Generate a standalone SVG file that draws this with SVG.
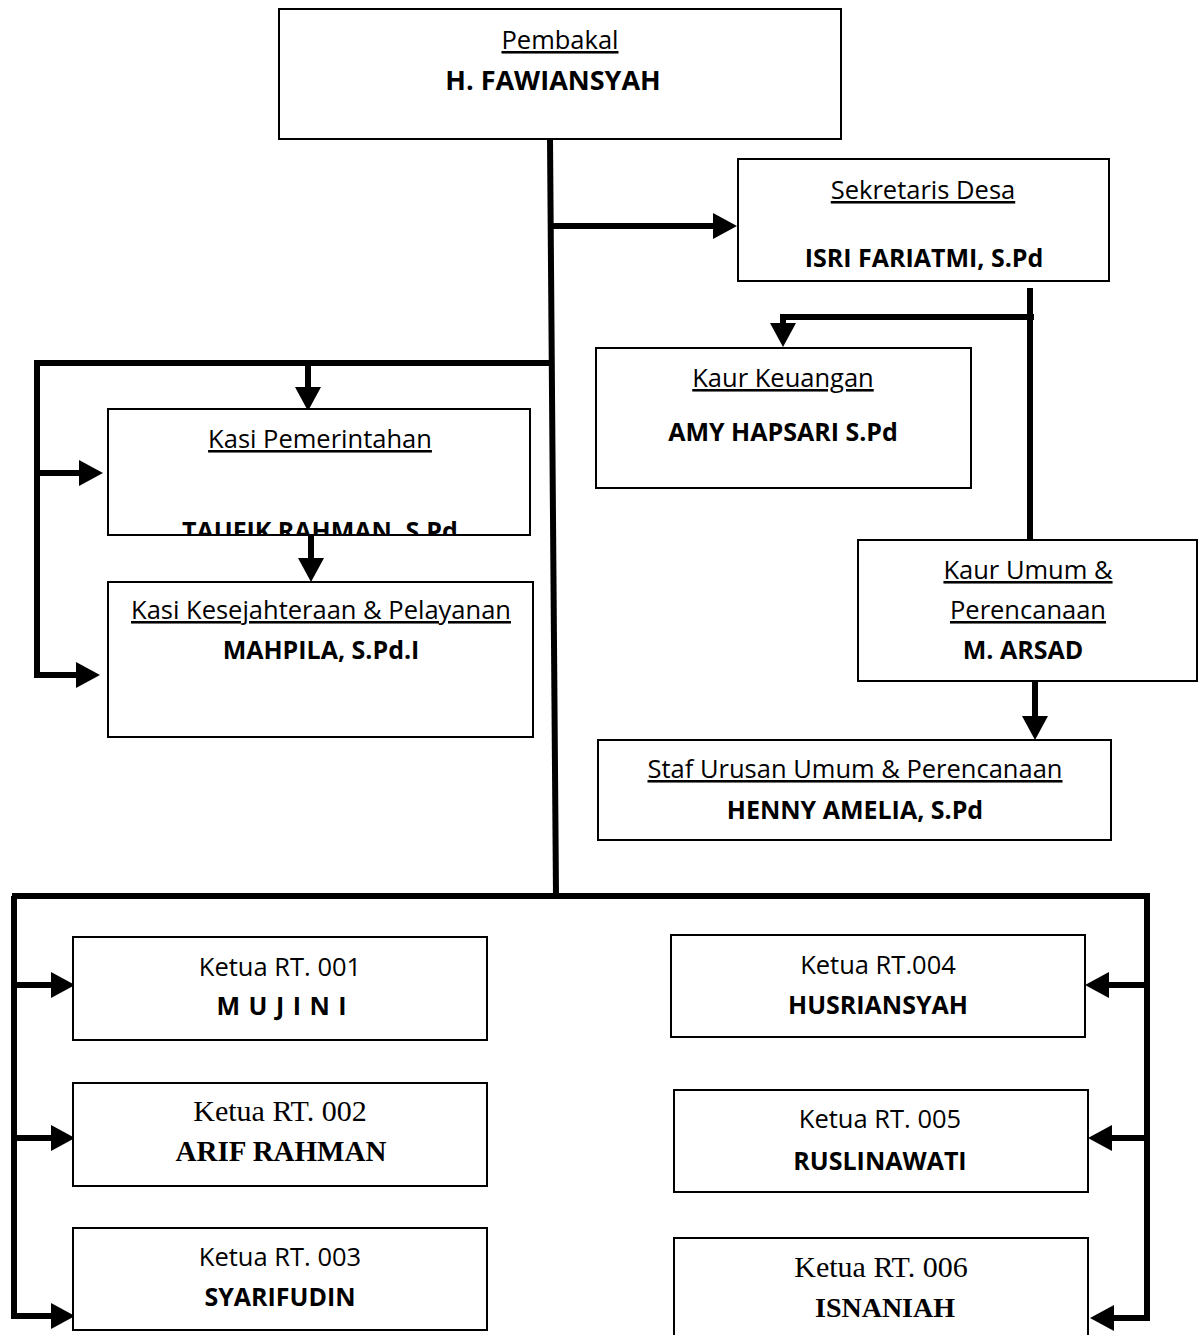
<svg xmlns="http://www.w3.org/2000/svg" width="1203" height="1335" viewBox="0 0 1203 1335">
<style>
.box{fill:#fff;stroke:#000;stroke-width:2}
.t{font-family:"Open Sans","Liberation Sans",sans-serif;font-size:25.5px;fill:#000;text-anchor:middle}
.u{text-decoration:underline}
.b{font-family:"Open Sans","Liberation Sans",sans-serif;font-size:25px;font-weight:bold;fill:#000;text-anchor:middle}
.s{font-family:"Liberation Serif",serif;font-size:30px;fill:#000;text-anchor:middle}
.sb{font-family:"Liberation Serif",serif;font-size:29px;font-weight:bold;fill:#000;text-anchor:middle}
.c{fill:none;stroke:#000;stroke-width:6}
</style>
<defs>
<marker id="ah" markerUnits="userSpaceOnUse" markerWidth="24" markerHeight="26" refX="4" refY="13" orient="auto">
<path d="M0,0 L24,13 L0,26 z" fill="#000"/>
</marker>
<clipPath id="clipKP"><rect x="108" y="409" width="422" height="125"/></clipPath>
</defs>
<rect width="1203" height="1335" fill="#fff"/>
<g id="connectors">
<path class="c" d="M550,139 L556,896"/>
<path class="c" d="M550,226 L717,226" marker-end="url(#ah)"/>
<path class="c" d="M1030,288 L1030,540"/>
<path class="c" d="M1034,317 L783,317 L783,327" marker-end="url(#ah)"/>
<path class="c" d="M550,363 L37,363 L37,675 L80,675" marker-end="url(#ah)"/>
<path class="c" d="M37,473 L83,473" marker-end="url(#ah)"/>
<path class="c" d="M308,363 L308,391" marker-end="url(#ah)"/>
<path class="c" d="M311,532 L311,562" marker-end="url(#ah)"/>
<path class="c" d="M1035,681 L1035,720" marker-end="url(#ah)"/>
<path class="c" d="M12,896 L1150,896"/>
<path class="c" d="M14,896 L14,1316 L55,1316" marker-end="url(#ah)"/>
<path class="c" d="M14,985 L55,985" marker-end="url(#ah)"/>
<path class="c" d="M14,1138 L55,1138" marker-end="url(#ah)"/>
<path class="c" d="M1147,896 L1147,1318 L1110,1318" marker-end="url(#ah)"/>
<path class="c" d="M1147,985 L1105,985" marker-end="url(#ah)"/>
<path class="c" d="M1147,1138 L1108,1138" marker-end="url(#ah)"/>
</g>
<g id="pembakal">
<rect class="box" x="279" y="9" width="562" height="130"/>
<text class="t u" x="560" y="49">Pembakal</text>
<text class="b" x="553" y="90" style="font-size:27px">H. FAWIANSYAH</text>
</g>
<g id="sekretaris">
<rect class="box" x="738" y="159" width="371" height="122"/>
<text class="t u" x="923" y="199">Sekretaris Desa</text>
<text class="b" x="924" y="267">ISRI FARIATMI, S.Pd</text>
</g>
<g id="kaur-keuangan">
<rect class="box" x="596" y="348" width="375" height="140"/>
<text class="t u" x="783" y="387">Kaur Keuangan</text>
<text class="b" x="783" y="441">AMY HAPSARI S.Pd</text>
</g>
<g id="kasi-pemerintahan">
<rect class="box" x="108" y="409" width="422" height="126"/>
<text class="t u" x="320" y="448">Kasi Pemerintahan</text>
<text class="b" x="320" y="540" clip-path="url(#clipKP)">TAUFIK RAHMAN, S.Pd</text>
</g>
<g id="kasi-kesejahteraan">
<rect class="box" x="108" y="582" width="425" height="155"/>
<text class="t u" x="321" y="619">Kasi Kesejahteraan &amp; Pelayanan</text>
<text class="b" x="321" y="659">MAHPILA, S.Pd.I</text>
</g>
<g id="kaur-umum">
<rect class="box" x="858" y="540" width="339" height="141"/>
<text class="t u" x="1028" y="579">Kaur Umum &amp;</text>
<text class="t u" x="1028" y="619">Perencanaan</text>
<text class="b" x="1023" y="659">M. ARSAD</text>
</g>
<g id="staf-umum">
<rect class="box" x="598" y="740" width="513" height="100"/>
<text class="t u" x="855" y="778">Staf Urusan Umum &amp; Perencanaan</text>
<text class="b" x="855" y="819">HENNY AMELIA, S.Pd</text>
</g>
<g id="rt001">
<rect class="box" x="73" y="937" width="414" height="103"/>
<text class="t" x="280" y="976">Ketua RT. 001</text>
<text class="b" x="282" y="1015" style="letter-spacing:1px">M U J I N I</text>
</g>
<g id="rt002">
<rect class="box" x="73" y="1083" width="414" height="103"/>
<text class="s" x="280" y="1121">Ketua RT. 002</text>
<text class="sb" x="281" y="1161">ARIF RAHMAN</text>
</g>
<g id="rt003">
<rect class="box" x="73" y="1228" width="414" height="102"/>
<text class="t" x="280" y="1266">Ketua RT. 003</text>
<text class="b" x="280" y="1306">SYARIFUDIN</text>
</g>
<g id="rt004">
<rect class="box" x="671" y="935" width="414" height="102"/>
<text class="t" x="878" y="974">Ketua RT.004</text>
<text class="b" x="878" y="1014">HUSRIANSYAH</text>
</g>
<g id="rt005">
<rect class="box" x="674" y="1090" width="414" height="102"/>
<text class="t" x="880" y="1128">Ketua RT. 005</text>
<text class="b" x="880" y="1170">RUSLINAWATI</text>
</g>
<g id="rt006">
<rect class="box" x="674" y="1238" width="414" height="110"/>
<text class="s" x="881" y="1277">Ketua RT. 006</text>
<text class="sb" x="885" y="1317" style="font-size:28px">ISNANIAH</text>
</g>
</svg>
